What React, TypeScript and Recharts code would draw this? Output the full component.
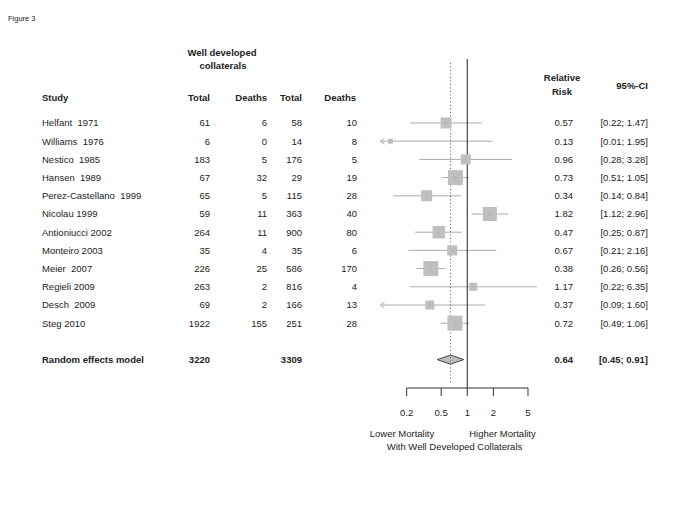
import React from 'react';
import {
  ComposedChart, Scatter, XAxis, YAxis, ZAxis, ReferenceLine, ReferenceArea, Customized,
} from 'recharts';

const studies = [
  'Helfant  1971', 'Williams  1976', 'Nestico  1985', 'Hansen  1989',
  'Perez-Castellano  1999', 'Nicolau 1999', 'Antioniucci 2002', 'Monteiro 2003',
  'Meier  2007', 'Regieli 2009', 'Desch  2009', 'Steg 2010',
];
const totalWell = [61, 6, 183, 67, 65, 59, 264, 35, 226, 263, 69, 1922];
const deathsWell = [6, 0, 5, 32, 5, 11, 11, 4, 25, 2, 2, 155];
const totalPoor = [58, 14, 176, 29, 115, 363, 900, 35, 586, 816, 166, 251];
const deathsPoor = [10, 8, 5, 19, 28, 40, 80, 6, 170, 4, 13, 28];
const rr = [0.57, 0.13, 0.96, 0.73, 0.34, 1.82, 0.47, 0.67, 0.38, 1.17, 0.37, 0.72];
const ciLo = [0.22, 0.01, 0.28, 0.51, 0.14, 1.12, 0.25, 0.21, 0.26, 0.22, 0.09, 0.49];
const ciHi = [1.47, 1.95, 3.28, 1.05, 0.84, 2.96, 0.87, 2.16, 0.56, 6.35, 1.60, 1.06];
const weights = [7.4, 1.5, 6.1, 13.7, 7.4, 12.0, 9.5, 6.1, 13.7, 3.9, 4.9, 13.7];

const pooledLabel = 'Random effects model';
const pooledTotalWell = 3220;
const pooledTotalPoor = 3309;
const pooledRR = 0.64;
const pooledLo = 0.45;
const pooledHi = 0.91;
const POOLED_ROW = 13;

const xTicks = [0.2, 0.5, 1, 2, 5];
const X_MIN = 0.1;
const X_MAX = 10;

const FONT = '"Liberation Sans", Arial, sans-serif';
const FS = 9.5;
const TXT = '#222';

const rows = studies.map((s, i) => ({
  row: i, rr: rr[i], lo: ciLo[i], hi: ciHi[i], weight: weights[i],
}));
const arrows = rows.filter((r) => r.lo < X_MIN).map((r) => ({ row: r.row, rr: X_MIN }));
const labelRows = [
  ...rows.map((r) => ({ row: r.row, rr: r.rr, idx: r.row })),
  { row: POOLED_ROW, rr: pooledRR, idx: -1 },
];

const fmt2 = (v: number) => v.toFixed(2);

const T = (p: any) => (
  <text
    x={p.x}
    y={p.y}
    textAnchor={p.anchor || 'start'}
    fontSize={p.size || FS}
    fontFamily={FONT}
    fontWeight={p.bold ? 'bold' : 'normal'}
    fill={TXT}
    style={{ whiteSpace: 'pre' }}
  >
    {p.children}
  </text>
);

const RowText = (props: any) => {
  const { cy, payload } = props;
  const i = payload.idx;
  const by = cy + 3.4;
  if (i < 0) {
    return (
      <g>
        <T x={42} y={by} bold>{pooledLabel}</T>
        <T x={210} y={by} anchor="end" bold>{pooledTotalWell}</T>
        <T x={302} y={by} anchor="end" bold>{pooledTotalPoor}</T>
        <T x={573} y={by} anchor="end" bold>{fmt2(pooledRR)}</T>
        <T x={648} y={by} anchor="end" bold>{`[${fmt2(pooledLo)}; ${fmt2(pooledHi)}]`}</T>
      </g>
    );
  }
  return (
    <g>
      <T x={42} y={by}>{studies[i]}</T>
      <T x={210} y={by} anchor="end">{totalWell[i]}</T>
      <T x={267} y={by} anchor="end">{deathsWell[i]}</T>
      <T x={302} y={by} anchor="end">{totalPoor[i]}</T>
      <T x={357} y={by} anchor="end">{deathsPoor[i]}</T>
      <T x={573} y={by} anchor="end">{fmt2(rr[i])}</T>
      <T x={648} y={by} anchor="end">{`[${fmt2(ciLo[i])}; ${fmt2(ciHi[i])}]`}</T>
    </g>
  );
};

const Headers = () => (
  <g>
    <T x={8} y={21} size={7.5}>Figure 3</T>
    <T x={222} y={55.5} anchor="middle" bold>Well developed</T>
    <T x={223} y={68.5} anchor="middle" bold>collaterals</T>
    <T x={42} y={100.5} bold>Study</T>
    <T x={210} y={100.5} anchor="end" bold>Total</T>
    <T x={267} y={100.5} anchor="end" bold>Deaths</T>
    <T x={302} y={100.5} anchor="end" bold>Total</T>
    <T x={356} y={100.5} anchor="end" bold>Deaths</T>
    <T x={562} y={80.5} anchor="middle" bold>Relative</T>
    <T x={562} y={94.5} anchor="middle" bold>Risk</T>
    <T x={648} y={88.5} anchor="end" bold>95%-CI</T>
    <T x={402} y={436.5} anchor="middle">Lower Mortality</T>
    <T x={502.5} y={436.5} anchor="middle">Higher Mortality</T>
    <T x={454.5} y={449.5} anchor="middle">With Well Developed Collaterals</T>
  </g>
);

const SquareShape = (props: any) => {
  const { cx, cy, size } = props;
  const s = Math.sqrt(Math.max(size || 0, 0));
  return (
    <g>
      <rect x={cx - s / 2} y={cy - s / 2} width={s} height={s} fill="#bfbfbf" />
      <line x1={cx} y1={cy - 1.5} x2={cx} y2={cy + 1.5} stroke="#a8a8a8" strokeWidth={0.8} />
    </g>
  );
};

const ArrowShape = (props: any) => {
  const { cx, cy } = props;
  return (
    <polyline
      points={`${cx + 4},${cy - 3} ${cx},${cy} ${cx + 4},${cy + 3}`}
      fill="none"
      stroke="#aaaaaa"
      strokeWidth={1}
    />
  );
};

const DiamondShape = (props: any) => {
  const { x, y, width, height } = props;
  const f = Math.log(pooledRR / pooledLo) / Math.log(pooledHi / pooledLo);
  const mx = x + width * f;
  const my = y + height / 2;
  return (
    <polygon
      points={`${x},${my} ${mx},${y} ${x + width},${my} ${mx},${y + height}`}
      fill="#bdbdbd"
      stroke="#444"
      strokeWidth={1}
    />
  );
};

const Y_MIN = -3.516;
const Y_MAX = 14.56;

export default function App() {
  return (
    <div style={{ position: 'absolute', left: 0, top: 0, width: 685, height: 513, background: '#fff' }}>
      <ComposedChart
        width={685}
        height={513}
        margin={{ top: 59, right: 130.9, bottom: 95, left: 380.5 }}
        data={rows}
      >
        <XAxis
          dataKey="rr"
          type="number"
          scale="log"
          domain={[X_MIN, X_MAX]}
          ticks={xTicks}
          interval={0}
          tickFormatter={(v: number) => String(v)}
          axisLine={false}
          tickSize={8}
          tickMargin={13}
          tickLine={{ stroke: '#333', strokeWidth: 1 }}
          tick={{ fontSize: FS, fill: TXT, fontFamily: FONT }}
          height={30}
        />
        <YAxis
          dataKey="row"
          type="number"
          domain={[Y_MIN, Y_MAX]}
          reversed
          hide
          width={0}
        />
        <ZAxis dataKey="weight" type="number" domain={[0, 15]} range={[0, 246]} />
        <ReferenceLine
          segment={[{ x: xTicks[0], y: Y_MAX }, { x: xTicks[xTicks.length - 1], y: Y_MAX }]}
          stroke="#333"
          strokeWidth={1}
          ifOverflow="visible"
        />
        {rows.map((r) => (
          <ReferenceLine
            key={`ci-${r.row}`}
            segment={[{ x: Math.max(r.lo, X_MIN), y: r.row }, { x: Math.min(r.hi, X_MAX), y: r.row }]}
            stroke="#aaaaaa"
            strokeWidth={1}
            ifOverflow="visible"
          />
        ))}
        <ReferenceLine
          segment={[{ x: pooledRR, y: -3.3 }, { x: pooledRR, y: 14.3 }]}
          stroke="#555"
          strokeWidth={1}
          strokeDasharray="1 2.5"
          ifOverflow="visible"
        />
        <ReferenceLine x={1} stroke="#444" strokeWidth={1.2} />
        <Scatter data={rows} dataKey="row" shape={<SquareShape />} isAnimationActive={false} />
        <Scatter data={arrows} dataKey="row" shape={<ArrowShape />} isAnimationActive={false} />
        <Scatter data={labelRows} dataKey="row" shape={<RowText />} isAnimationActive={false} />
        <ReferenceArea
          x1={pooledLo}
          x2={pooledHi}
          y1={POOLED_ROW - 0.25}
          y2={POOLED_ROW + 0.25}
          shape={<DiamondShape />}
          ifOverflow="visible"
        />
        <Customized component={<Headers />} />
      </ComposedChart>
    </div>
  );
}
